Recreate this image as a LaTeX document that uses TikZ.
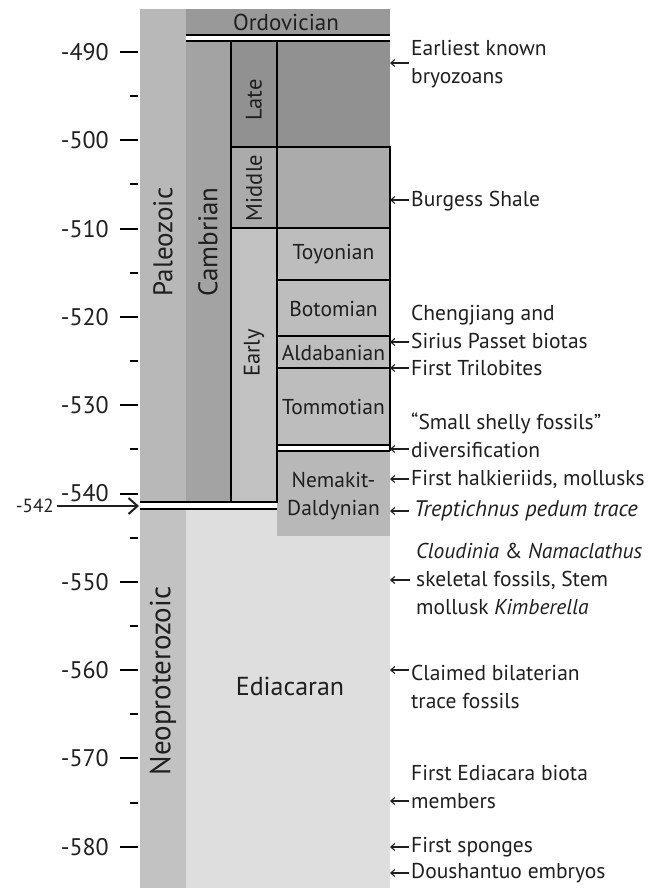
\documentclass[tikz,border=0pt]{standalone}
\usepackage{fontspec}
\setmainfont{PT Sans}
\usetikzlibrary{arrows.meta}
\definecolor{paleo}{gray}{0.72}
\definecolor{neo}{gray}{0.76}
\definecolor{ordo}{gray}{0.60}
\definecolor{camb}{gray}{0.64}
\definecolor{late}{gray}{0.57}
\definecolor{mid}{gray}{0.67}
\definecolor{early}{gray}{0.76}
\definecolor{stage}{gray}{0.74}
\definecolor{nemak}{gray}{0.72}
\definecolor{ediac}{gray}{0.87}
\definecolor{ink}{gray}{0.12}
\begin{document}
\begin{tikzpicture}[x=1pt,y=-1pt,
  bl/.style={line width=1.6pt, black},
  tick/.style={line width=2pt, black},
  axl/.style={inner sep=0pt, text=ink, font=\fontsize{24}{28}\selectfont},
  era/.style={inner sep=0pt, rotate=90, text=ink, font=\fontsize{27}{30}\selectfont},
  sub/.style={inner sep=0pt, rotate=90, text=ink, font=\fontsize{22.5}{26}\selectfont},
  stg/.style={inner sep=0pt, text=ink, font=\fontsize{21.5}{28}\selectfont, align=center},
  anno/.style={inner sep=0pt, anchor=west, align=left, text=ink, font=\fontsize{21.5}{28}\selectfont},
  sarr/.style={line width=1.1pt, ink, -{Straight Barb[length=4pt,width=7pt]}},
  bigarr/.style={line width=2pt, ink, -{Straight Barb[length=9pt,width=16pt]}}
]
\useasboundingbox (0,0) rectangle (657,888);

% column fills
\fill[paleo] (140,9) rectangle (186,502);
\fill[neo] (140,509) rectangle (186,888);
\fill[ordo] (186,9) rectangle (390,35);
\fill[camb] (186,41) rectangle (231,502);
\fill[late] (231,41) rectangle (390,147);
\fill[ediac] (186,509) rectangle (390,888);
\fill[nemak] (277,451) rectangle (390,536);

% boxes
\draw[bl, fill=mid] (231,147) rectangle (277,228);
\draw[bl, fill=mid] (277,147) rectangle (390,228);
\draw[bl, fill=early] (231,228) rectangle (277,502);
\draw[bl, fill=stage] (277,228) rectangle (390,280);
\draw[bl, fill=stage] (277,280) rectangle (390,336);
\draw[bl, fill=stage] (277,336) rectangle (390,368);
\draw[bl, fill=stage] (277,368) rectangle (390,445);

% lines
\draw[bl] (186,35) -- (390,35);
\draw[bl] (186,41) -- (390,41);
\draw[bl] (231,41) -- (231,502);
\draw[bl] (277,41) -- (277,147);
\draw[bl] (390,445) -- (390,451);
\draw[bl] (277,502) -- (277,451) -- (390,451);
\draw[bl] (140,502) -- (277,502);
\draw[bl] (140,509) -- (277,509);

% column labels
\node[era] (paleozoic) at (163,242) {Paleozoic};
\node[era] (cambrian) at (208,242) {Cambrian};
\node[era, font=\fontsize{29}{32}\selectfont] (neoprot) at (163,681) {Neoproterozoic};
\node[sub] (late) at (254,100) {Late};
\node[sub] (middle) at (254,188) {Middle};
\node[sub] (early) at (254,353) {Early};
\node[stg, font=\fontsize{23}{28}\selectfont] (ordovician) at (286,22) {Ordovician};
\node[stg] (toyonian) at (333.5,254) {Toyonian};
\node[stg] (botomian) at (333.5,309) {Botomian};
\node[stg] (aldabanian) at (333.5,353) {Aldabanian};
\node[stg] (tommotian) at (333.5,407) {Tommotian};
\node[stg] (nemakit) at (333.5,496) {Nemakit-\\Daldynian};
\node[inner sep=0pt, text=ink, font=\fontsize{26}{30}\selectfont] (ediacaran) at (290,686) {Ediacaran};

% axis
\foreach \a in {490,500,...,580}{
  \pgfmathsetmacro\yy{52+8.83*(\a-490)}
  \draw[tick] (120,\yy) -- (138,\yy);
  \node[axl, anchor=east] (ax\a) at (109,\yy) {-\a};
}
\foreach \a in {495,505,...,575}{
  \pgfmathsetmacro\yy{52+8.83*(\a-490)}
  \draw[tick] (130,\yy) -- (138,\yy);
}

% -542 marker
\node[inner sep=0pt, anchor=east, text=ink, font=\fontsize{19}{22}\selectfont] (l542) at (54,506) {-542};
\coordinate (p542) at (139,506);
\draw[bigarr] ([xshift=3pt]l542.east) -- (p542);

% annotations
\coordinate (a1) at (390,63);
\node[anno] (n1) at (411,64.5) {Earliest known\\bryozoans};
\draw[sarr] ([xshift=-2pt]n1.west |- a1) -- (a1);

\coordinate (a2) at (390,200);
\node[anno] (n2) at (411,201) {Burgess Shale};
\draw[sarr] ([xshift=-2pt]n2.west |- a2) -- (a2);

\coordinate (a3) at (390,342);
\node[anno] (n3) at (411,327) {Chengjiang and\\Sirius Passet biotas};
\draw[sarr] ([xshift=-2pt]n3.west |- a3) -- (a3);

\coordinate (a4) at (390,368);
\node[anno] (n4) at (411,368) {First Trilobites};
\draw[sarr] ([xshift=-2pt]n4.west |- a4) -- (a4);

\coordinate (a5) at (390,449);
\node[anno] (n5) at (411,435) {“Small shelly fossils”\\diversification};
\draw[sarr] ([xshift=-2pt]n5.west |- a5) -- (a5);

\coordinate (a6) at (390,479);
\node[anno] (n6) at (411,479) {First halkieriids, mollusks};
\draw[sarr] ([xshift=-2pt]n6.west |- a6) -- (a6);

\coordinate (a7) at (390,511);
\node[anno, font=\fontsize{22.5}{28}\selectfont] (n7) at (414,511) {\textit{Treptichnus pedum trace}};
\draw[sarr] ([xshift=-5pt]n7.west |- a7) -- (a7);

\coordinate (a8) at (390,580);
\node[anno] (n8) at (416,579) {\textit{Cloudinia} \& \textit{Namaclathus}\\skeletal fossils, Stem\\mollusk \textit{Kimberella}};
\draw[sarr] ([xshift=-6pt]n8.west |- a8) -- (a8);

\coordinate (a9) at (390,670);
\node[anno] (n9) at (411,687) {Claimed bilaterian\\trace fossils};
\draw[sarr] ([xshift=-2pt]n9.west |- a9) -- (a9);

\coordinate (a10) at (390,801);
\node[anno] (n10) at (411,787) {First Ediacara biota\\members};
\draw[sarr] ([xshift=-2pt]n10.west |- a10) -- (a10);

\coordinate (a11) at (390,847);
\node[anno] (n11) at (411,847) {First sponges};
\draw[sarr] ([xshift=-2pt]n11.west |- a11) -- (a11);

\coordinate (a12) at (390,873);
\node[anno] (n12) at (411,873) {Doushantuo embryos};
\draw[sarr] ([xshift=-2pt]n12.west |- a12) -- (a12);
\end{tikzpicture}
\end{document}
